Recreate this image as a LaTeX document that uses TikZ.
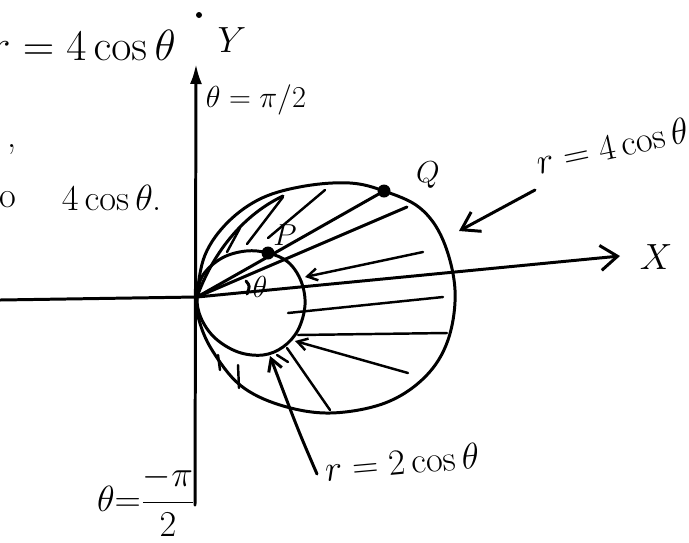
\documentclass[tikz,border=0pt]{standalone}
\usetikzlibrary{arrows.meta,positioning}
\usepackage{amsmath}

\begin{document}
\begin{tikzpicture}[
            x=0.02cm, y=-0.02cm,
            pen/.style={line width=1.7pt, line cap=round, line join=round},
            hatch/.style={line width=1.4pt, line cap=round},
            lbl/.style={font=\huge, inner sep=0pt},
            dot/.style={circle, fill, inner sep=0pt, minimum size=2.6mm},
            >=Stealth
        ]
        \useasboundingbox (0,0) rectangle (689,542);

        % axes
        \coordinate (O) at (197,297);
        \coordinate (xl) at (0,300);
        \coordinate (xr) at (620,256);
        \coordinate (yb) at (195,505);
        \coordinate (yt) at (196,64);
        \draw[pen] (xl) -- (O);
        \draw[pen, -{Straight Barb[length=3.4mm, width=5mm]}] (O) -- (xr);
        \draw[pen, -{Latex[length=4mm, width=2.4mm]}] (yb) -- (yt);

        % r = 4 cos theta
        \draw[pen] plot[smooth cycle, tension=0.6] coordinates {
            (197,297) (205,255) (228,222) (262,198) (305,186) (350,183)
            (384,191) (420,208) (443,240) (455,290) (448,340) (425,377)
            (385,403) (330,413) (280,405) (240,385) (212,350) (199,320)};
        % r = 2 cos theta
        \draw[pen] plot[smooth cycle, tension=0.6] coordinates {
            (197,297) (203,275) (222,258) (246,251) (268,253) (288,262)
            (301,281) (305,305) (298,330) (283,347) (263,355) (238,352)
            (215,338) (201,318)};
        \draw[pen] (O) .. controls (214,250) and (245,214) .. (283,196);

        % points P and Q
        \node[dot] (P) at (268,253) {};
        \node[dot] (Q) at (384,191) {};
        \draw[pen] (O) -- (Q);
        \draw[pen] (O) -- (407,207);
        \draw[pen] (246,281) .. controls (250,286) .. (247,294);

        % hatching
        \draw[hatch] (227,252) -- (240,228);
        \draw[hatch] (247,244) -- (283,197);
        \draw[hatch] (268,238) -- (325,190);
        \draw[hatch, -{Straight Barb[length=2mm, width=2.4mm]}] (423,252) -- (305,277);
        \draw[hatch] (288,313) -- (443,297);
        \draw[hatch] (298,335) -- (447,333);
        \draw[hatch, -{Straight Barb[length=2mm, width=2.4mm]}] (408,373) -- (295,341);
        \draw[hatch] (287,348) -- (330,410);
        \draw[hatch] (277,355) -- (288,362);
        \draw[hatch] (218,355) -- (220,370);
        \draw[hatch] (238,365) -- (239,388);

        % labels
        \node[lbl, font=\Huge, anchor=east] (eq4) at (176,45) {$r = 4\cos\theta$};
        \node[dot, minimum size=1.2mm] (stop) at (199,15) {};
        \node[lbl] (ylbl) at (232,40) {$Y$};
        \node[lbl, font=\LARGE] (top) at (256,100) {$\theta=\pi/2$};
        \node[lbl] (comma) at (12,150) {,};
        \node[lbl] (o) at (8,200) {o};
        \node[lbl] (eq4b) at (112,198) {$4\cos\theta$.};
        \node[lbl, font=\LARGE] (qlbl) at (428,175) {$Q$};
        \node[lbl, font=\LARGE] (plbl) at (285,235) {$P$};
        \node[lbl, font=\LARGE] (th) at (260,287) {$\theta$};
        \node[lbl, rotate=12] (outer) at (612,146) {$r=4\cos\theta$};
        \node[lbl] (xlbl) at (656,257) {$X$};
        \node[lbl, rotate=5] (inner) at (402,462) {$r=2\cos\theta$};
        \node[lbl] (bottom) at (146,501) {$\theta{=}\dfrac{-\pi}{2}$};

        % pointers
        \coordinate (a4) at (535,190);
        \coordinate (c4) at (459,231);
        \coordinate (a2) at (317,474);
        \coordinate (c2) at (270,356);
        \draw[pen, -{Straight Barb[length=3.4mm, width=4.4mm]}] (a4) -- (c4);
        \draw[pen, -{Straight Barb[length=2.4mm, width=2.8mm]}] (a2) .. controls (298,430) .. (c2);
\end{tikzpicture}
\end{document}
